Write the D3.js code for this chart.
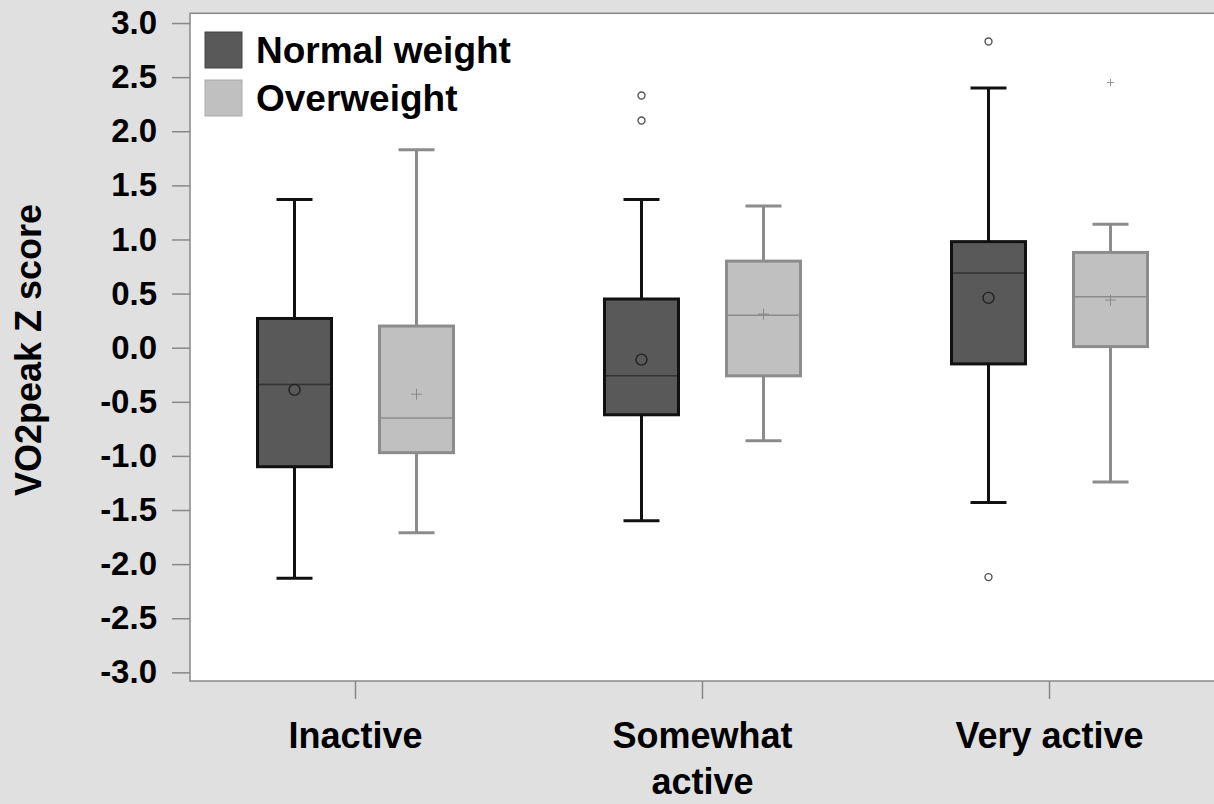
<!DOCTYPE html>
<html>
<head>
<meta charset="utf-8">
<script src="https://cdn.jsdelivr.net/npm/d3@7"></script>
<style>
  body { margin: 0; background: #e0e0e0; }
  svg { display: block; font-family: "Liberation Sans", Arial, sans-serif; font-weight: bold; }
</style>
</head>
<body>
<svg width="1214" height="804"></svg>
<script>
const categories = ["Inactive", "Somewhat active", "Very active"]
const groups = ["Normal weight", "Overweight"]
const yTicks = [-3, -2.5, -2, -1.5, -1, -0.5, 0, 0.5, 1, 1.5, 2, 2.5, 3]

// normal weight boxes
const normalLow = [-2.13, -1.60, -1.43]
const normalQ1 = [-1.10, -0.62, -0.15]
const normalMedian = [-0.34, -0.26, 0.69]
const normalQ3 = [0.27, 0.45, 0.98]
const normalHigh = [1.37, 1.37, 2.40]
const normalMean = [-0.39, -0.11, 0.46]
const normalOutliers = [[], [2.10, 2.33], [2.83, -2.12]]

// overweight boxes
const overLow = [-1.71, -0.86, -1.24]
const overQ1 = [-0.97, -0.26, 0.01]
const overMedian = [-0.65, 0.30, 0.47]
const overQ3 = [0.20, 0.80, 0.88]
const overHigh = [1.83, 1.31, 1.14]
const overMean = [-0.43, 0.31, 0.44]
const overOutliers = [[], [], [2.45]]

const svg = d3.select("svg")
const plotLeft = 190, plotTop = 13.3, plotBottom = 681, plotRight = 1232

const xScale = d3.scaleBand().domain(categories).range([182, 1223])
const gScale = d3.scalePoint().domain(groups).range([0, xScale.bandwidth()]).padding(0.922)
const yScale = d3.scaleLinear().domain([-3.08, 3.09]).range([plotBottom, plotTop])

const style = {
  "Normal weight": {fill: "#595959", stroke: "#111", med: "#333", mark: "#222", out: "#555"},
  "Overweight": {fill: "#c0c0c0", stroke: "#8c8c8c", med: "#8c8c8c", mark: "#888", out: "#999"}
}

svg.append("rect")
  .attr("x", plotLeft).attr("y", plotTop)
  .attr("width", plotRight - plotLeft).attr("height", plotBottom - plotTop)
  .attr("fill", "#fff").attr("stroke", "#888").attr("stroke-width", 1.5)

const boxes = []
categories.forEach((c, i) => {
  boxes.push({cat: c, grp: groups[0], low: normalLow[i], q1: normalQ1[i], med: normalMedian[i], q3: normalQ3[i], high: normalHigh[i], mean: normalMean[i], out: normalOutliers[i]})
  boxes.push({cat: c, grp: groups[1], low: overLow[i], q1: overQ1[i], med: overMedian[i], q3: overQ3[i], high: overHigh[i], mean: overMean[i], out: overOutliers[i]})
})

const cx = d => xScale(d.cat) + gScale(d.grp)
const boxW = 74, capW = 36

const g = svg.append("g")
  .selectAll("g")
  .data(boxes)
  .enter()
  .append("g")

g.append("line")
  .attr("x1", cx).attr("x2", cx)
  .attr("y1", d => yScale(d.low)).attr("y2", d => yScale(d.high))
  .attr("stroke", d => style[d.grp].stroke).attr("stroke-width", 3)

g.selectAll(".cap")
  .data(d => [d.low, d.high].map(v => ({v: v, d: d})))
  .enter()
  .append("line")
  .attr("x1", e => cx(e.d) - capW / 2).attr("x2", e => cx(e.d) + capW / 2)
  .attr("y1", e => yScale(e.v)).attr("y2", e => yScale(e.v))
  .attr("stroke", e => style[e.d.grp].stroke).attr("stroke-width", 3)

g.append("rect")
  .attr("x", d => cx(d) - boxW / 2)
  .attr("y", d => yScale(d.q3))
  .attr("width", boxW)
  .attr("height", d => yScale(d.q1) - yScale(d.q3))
  .attr("fill", d => style[d.grp].fill)
  .attr("stroke", d => style[d.grp].stroke).attr("stroke-width", 3)

g.append("line")
  .attr("x1", d => cx(d) - boxW / 2 + 1.5).attr("x2", d => cx(d) + boxW / 2 - 1.5)
  .attr("y1", d => yScale(d.med)).attr("y2", d => yScale(d.med))
  .attr("stroke", d => style[d.grp].med).attr("stroke-width", 1.5)

// circles for normal weight, plus signs for overweight
function marker(sel, size, key) {
  sel.each(function(e) {
    const s = d3.select(this)
    const x = cx(e.d), y = yScale(e.v)
    const color = style[e.d.grp][key]
    if (e.d.grp === groups[0]) {
      s.append("circle").attr("cx", x).attr("cy", y).attr("r", size)
        .attr("fill", "none").attr("stroke", color).attr("stroke-width", 1.4)
    } else {
      s.append("path").attr("d", `M${x - size},${y}H${x + size}M${x},${y - size}V${y + size}`)
        .attr("stroke", color).attr("stroke-width", 1)
    }
  })
}

g.selectAll(".mean")
  .data(d => [{v: d.mean, d: d}])
  .enter().append("g")
  .call(marker, 5.5, "mark")

g.selectAll(".out")
  .data(d => d.out.map(v => ({v: v, d: d})))
  .enter().append("g")
  .call(marker, 3.5, "out")

// axes
const yAxis = svg.append("g")
  .attr("transform", `translate(${plotLeft},0)`)
  .call(d3.axisLeft(yScale).tickValues(yTicks).tickSize(18).tickPadding(15).tickFormat(d => d.toFixed(1)))
yAxis.select(".domain").remove()
yAxis.selectAll(".tick line").attr("stroke", "#888").attr("stroke-width", 1.5)
yAxis.selectAll(".tick text").attr("font-size", 33).attr("fill", "#000")
  .attr("font-family", "Liberation Sans, Arial, sans-serif").attr("font-weight", "bold")

const xAxis = svg.append("g")
  .attr("transform", `translate(0,${plotBottom})`)
  .call(d3.axisBottom(xScale).tickSize(18).tickFormat(""))
xAxis.select(".domain").remove()
xAxis.selectAll(".tick line").attr("stroke", "#888").attr("stroke-width", 1.5)

const xLabelLines = {"Inactive": ["Inactive"], "Somewhat active": ["Somewhat", "active"], "Very active": ["Very active"]}
svg.append("g")
  .selectAll("text")
  .data(categories)
  .enter()
  .append("text")
  .attr("x", d => xScale(d) + xScale.bandwidth() / 2)
  .attr("y", 748)
  .attr("text-anchor", "middle")
  .attr("font-size", 36)
  .each(function(d) {
    const t = d3.select(this)
    xLabelLines[d].forEach((l, i) => {
      t.append("tspan").attr("x", xScale(d) + xScale.bandwidth() / 2).attr("dy", i === 0 ? 0 : 46).text(l)
    })
  })

svg.append("text")
  .attr("transform", "translate(41,350) rotate(-90)")
  .attr("text-anchor", "middle")
  .attr("font-size", 36)
  .text("VO2peak Z score")

// legend
const legend = svg.append("g")
  .selectAll("g")
  .data(groups)
  .enter()
  .append("g")
  .attr("transform", (d, i) => `translate(205,${32 + i * 48})`)

legend.append("rect")
  .attr("width", 37).attr("height", 36)
  .attr("fill", d => style[d].fill)
  .attr("stroke", d => d === groups[0] ? "#444" : "#aaa").attr("stroke-width", 1)

legend.append("text")
  .attr("x", 51).attr("y", 31)
  .attr("font-size", 37)
  .text(d => d)
</script>
</body>
</html>
